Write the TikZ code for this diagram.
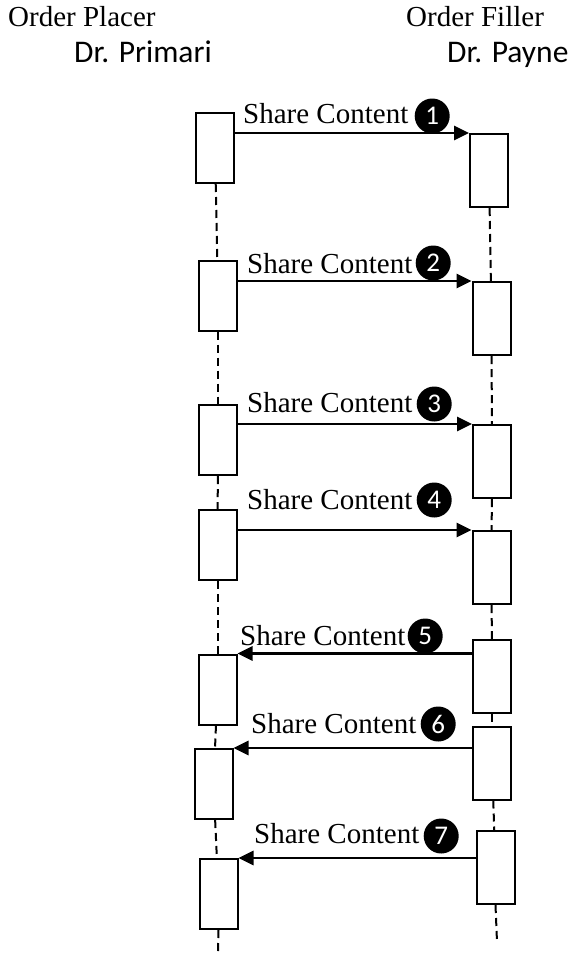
\documentclass[tikz,border=0pt]{standalone}
\usepackage{fontspec}
\setmainfont{Liberation Serif}
\newfontfamily\calibrifont{Carlito}
\usetikzlibrary{arrows.meta,positioning}

\begin{document}
\begin{tikzpicture}[x=1pt,y=-1pt,>={Triangle[length=15pt,width=14pt]},
    actbox/.style={draw,fill=white,line width=2pt,inner sep=0pt,minimum width=38pt,minimum height=70pt},
    rbox/.style={actbox,minimum height=73pt},
    msg/.style={->,line width=2.7pt},
    lifeline/.style={line width=2pt,dash pattern=on 8pt off 5pt},
    role/.style={anchor=base west,inner sep=0pt,font=\fontsize{29}{32}\selectfont},
    actor/.style={anchor=base west,inner sep=0pt,font=\calibrifont\fontsize{31.5}{34}\selectfont},
    msglabel/.style={anchor=base west,inner sep=0pt,font=\fontsize{29}{32}\selectfont},
    numdot/.style={circle,fill=black,text=white,inner sep=0pt,minimum size=35pt,font=\calibrifont\fontsize{27}{27}\selectfont}]
  \useasboundingbox (0,0) rectangle (576,953);

  % headers
  \node[role]  (placer) at (8,27)   {Order Placer};
  \node[actor] (primari) at (74,62) {Dr. Primari};
  \node[role]  (filler) at (406,27) {Order Filler};
  \node[actor] (payne) at (447,62)  {Dr. Payne};

  % activation boxes
  \node[actbox] (L1) at (215,148)   {};
  \node[rbox]   (R1) at (489,170.5) {};
  \node[actbox] (L2) at (218,295.5) {};
  \node[rbox]   (R2) at (491.5,318.5) {};
  \node[actbox] (L3) at (218,440)   {};
  \node[rbox]   (R3) at (492,461.5) {};
  \node[actbox] (L4) at (217.5,545) {};
  \node[rbox]   (R4) at (491.5,567.5) {};
  \node[rbox]   (R5) at (492,676.5) {};
  \node[actbox] (L5) at (217.5,689.5) {};
  \node[rbox]   (R6) at (492,763)   {};
  \node[actbox] (L6) at (213.5,784) {};
  \node[rbox]   (R7) at (495.5,867.5) {};
  \node[actbox] (L7) at (218.5,894) {};

  \coordinate (lend) at (218,953);
  \coordinate (rend) at (497,942);

  % lifelines
  \path[lifeline]
        (L1) edge (L2)
        (L2) edge (L3)
        (L3) edge (L4)
        (L4) edge (L5)
        (L5) edge (L6)
        (L6) edge (L7)
        (L7.south) edge (lend)
        (R1) edge (R2)
        (R2) edge (R3)
        (R3) edge (R4)
        (R4) edge (R5)
        (R5) edge (R6)
        (R6) edge (R7)
        (R7.south) edge (rend);

  % messages
  \draw[msg] (L1.east |- R1.north) -- (R1.north west);
  \draw[msg] (L2.east |- R2.north) -- (R2.north west);
  \draw[msg] (L3.east |- R3.north) -- (R3.north west);
  \draw[msg] (L4.east |- R4.north) -- (R4.north west);
  \draw[msg] (R5.west |- L5.north) -- (L5.north east);
  \draw[msg] (R6.west |- L6.north) -- (L6.north east);
  \draw[msg] (R7.west |- L7.north) -- (L7.north east);

  % labels
  \node[msglabel] (t1) at (243,123) {Share Content};
  \node[numdot,right=6pt of t1.base east,yshift=7pt] (n1) {1};
  \node[msglabel] (t2) at (247,273) {Share Content};
  \node[numdot,right=3pt of t2.base east,yshift=10pt] (n2) {2};
  \node[msglabel] (t3) at (247,412) {Share Content};
  \node[numdot,right=4pt of t3.base east,yshift=8pt] (n3) {3};
  \node[msglabel] (t4) at (247,509) {Share Content};
  \node[numdot,right=4pt of t4.base east,yshift=9pt] (n4) {4};
  \node[msglabel] (t5) at (240,645) {Share Content};
  \node[numdot,right=2pt of t5.base east,yshift=9pt] (n5) {5};
  \node[msglabel] (t6) at (251,733) {Share Content};
  \node[numdot,right=4pt of t6.base east,yshift=9pt] (n6) {6};
  \node[msglabel] (t7) at (254,843) {Share Content};
  \node[numdot,right=4pt of t7.base east,yshift=7pt] (n7) {7};
\end{tikzpicture}
\end{document}
